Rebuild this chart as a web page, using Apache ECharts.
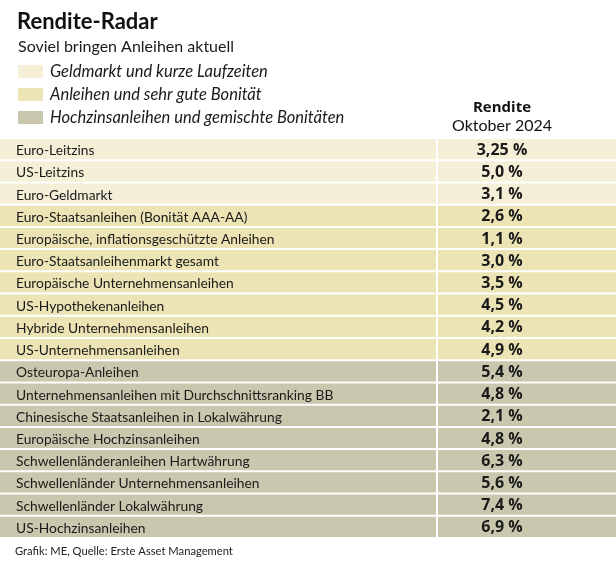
<!DOCTYPE html>
<html>
<head>
<meta charset="utf-8">
<script src="https://cdn.jsdelivr.net/npm/echarts@6/dist/echarts.min.js"></script>
<style>html,body{margin:0;padding:0;background:#fff}#c{width:616px;height:562px}</style>
</head>
<body>
<div id="c"></div>
<script>
const categories = [
  'Euro-Leitzins',
  'US-Leitzins',
  'Euro-Geldmarkt',
  'Euro-Staatsanleihen (Bonität AAA-AA)',
  'Europäische, inflationsgeschützte Anleihen',
  'Euro-Staatsanleihenmarkt gesamt',
  'Europäische Unternehmensanleihen',
  'US-Hypothekenanleihen',
  'Hybride Unternehmensanleihen',
  'US-Unternehmensanleihen',
  'Osteuropa-Anleihen',
  'Unternehmensanleihen mit Durchschnittsranking BB',
  'Chinesische Staatsanleihen in Lokalwährung',
  'Europäische Hochzinsanleihen',
  'Schwellenländeranleihen Hartwährung',
  'Schwellenländer Unternehmensanleihen',
  'Schwellenländer Lokalwährung',
  'US-Hochzinsanleihen'
];
const yields = [3.25, 5.0, 3.1, 2.6, 1.1, 3.0, 3.5, 4.5, 4.2, 4.9, 5.4, 4.8, 2.1, 4.8, 6.3, 5.6, 7.4, 6.9];
const rowGroup = [0, 0, 0, 1, 1, 1, 1, 1, 1, 1, 2, 2, 2, 2, 2, 2, 2, 2];
const groupNames = [
  'Geldmarkt und kurze Laufzeiten',
  'Anleihen und sehr gute Bonität',
  'Hochzinsanleihen und gemischte Bonitäten'
];
const groupColors = ['#f4efd6', '#ece4b5', '#c9c8ae'];
const headerLine1 = 'Rendite';
const headerLine2 = 'Oktober 2024';
const titleText = 'Rendite-Radar';
const subtitleText = 'Soviel bringen Anleihen aktuell';
const footerText = 'Grafik: ME, Quelle: Erste Asset Management';

const FONT = 'Lato, "Noto Sans", sans-serif';
const FONT2 = '"Open Sans", "Noto Sans", sans-serif';
const W = 616;
const SPLIT = 436;   // column divider (px on x axis)
const VALX = 502;    // value text center

function fmt(v) {
  const two = Math.abs(Math.round(v * 10) - v * 10) > 1e-6;
  return v.toFixed(two ? 2 : 1).replace('.', ',') + ' %';
}

function renderRow(params, api) {
  const row = api.value(1);
  const v = api.value(2);
  const c0 = api.coord([0, row]);
  const cs = api.coord([SPLIT, row]);
  const ce = api.coord([W, row]);
  const cv = api.coord([VALX, row]);
  const h = api.size([0, 1])[1];
  const yTop = c0[1] - h / 2 + 1;
  const color = api.visual('color');
  return {
    type: 'group',
    children: [
      { type: 'rect', shape: { x: c0[0], y: yTop, width: cs[0] - c0[0], height: h - 2 }, style: { fill: color } },
      { type: 'rect', shape: { x: cs[0] + 2, y: yTop, width: ce[0] - cs[0] - 2, height: h - 2 }, style: { fill: color } },
      { type: 'text', x: c0[0] + 16, y: c0[1] + 1.5, style: { text: categories[row], fill: '#1a1a1a', font: '13.8px ' + FONT, textVerticalAlign: 'middle', textAlign: 'left' } },
      { type: 'text', x: cv[0], y: c0[1] + 1, style: { text: fmt(v), fill: '#1a1a1a', font: 'bold 16px ' + FONT2, textVerticalAlign: 'middle', textAlign: 'center' } }
    ]
  };
}

const series = groupNames.map((name, g) => ({
  type: 'custom',
  name: name,
  itemStyle: { color: groupColors[g] },
  renderItem: renderRow,
  encode: { x: 0, y: 1 },
  data: yields.map((v, i) => [0, i, v]).filter((d, i) => rowGroup[i] === g),
  silent: true,
  animation: false
}));

const chart = echarts.init(document.getElementById('c'), null, { renderer: 'canvas' });
chart.setOption({
  backgroundColor: '#ffffff',
  animation: false,
  textStyle: { fontFamily: FONT },
  title: [
    { text: titleText, left: 17, top: 11, padding: 0, textStyle: { fontSize: 22, fontWeight: 'bold', color: '#111', fontFamily: FONT } },
    { text: subtitleText, left: 18, top: 39, padding: 0, textStyle: { fontSize: 16, fontWeight: 'normal', color: '#1a1a1a', fontFamily: FONT } }
  ],
  legend: {
    left: 18, top: 63, orient: 'vertical', padding: 0,
    itemWidth: 25, itemHeight: 13, itemGap: 6, icon: 'rect',
    selectedMode: false,
    textStyle: { fontSize: 16.5, fontStyle: 'italic', color: '#1a1a1a', fontFamily: FONT, padding: [0, 0, 0, 2] },
    data: groupNames
  },
  grid: { left: 0, right: 0, top: 138, height: 400, containLabel: false },
  xAxis: { type: 'value', min: 0, max: W, show: false },
  yAxis: { type: 'category', data: categories, inverse: true, show: false },
  graphic: [
    { type: 'text', x: VALX, y: 108, style: { text: headerLine1, font: 'bold 15px ' + FONT2, fill: '#111', textAlign: 'center', textVerticalAlign: 'middle' } },
    { type: 'text', x: VALX, y: 126, style: { text: headerLine2, font: '16px ' + FONT, fill: '#111', textAlign: 'center', textVerticalAlign: 'middle' } },
    { type: 'text', x: 15, y: 551, style: { text: footerText, font: '11.2px ' + FONT, fill: '#222', textAlign: 'left', textVerticalAlign: 'middle' } }
  ],
  series: series
});
</script>
</body>
</html>
